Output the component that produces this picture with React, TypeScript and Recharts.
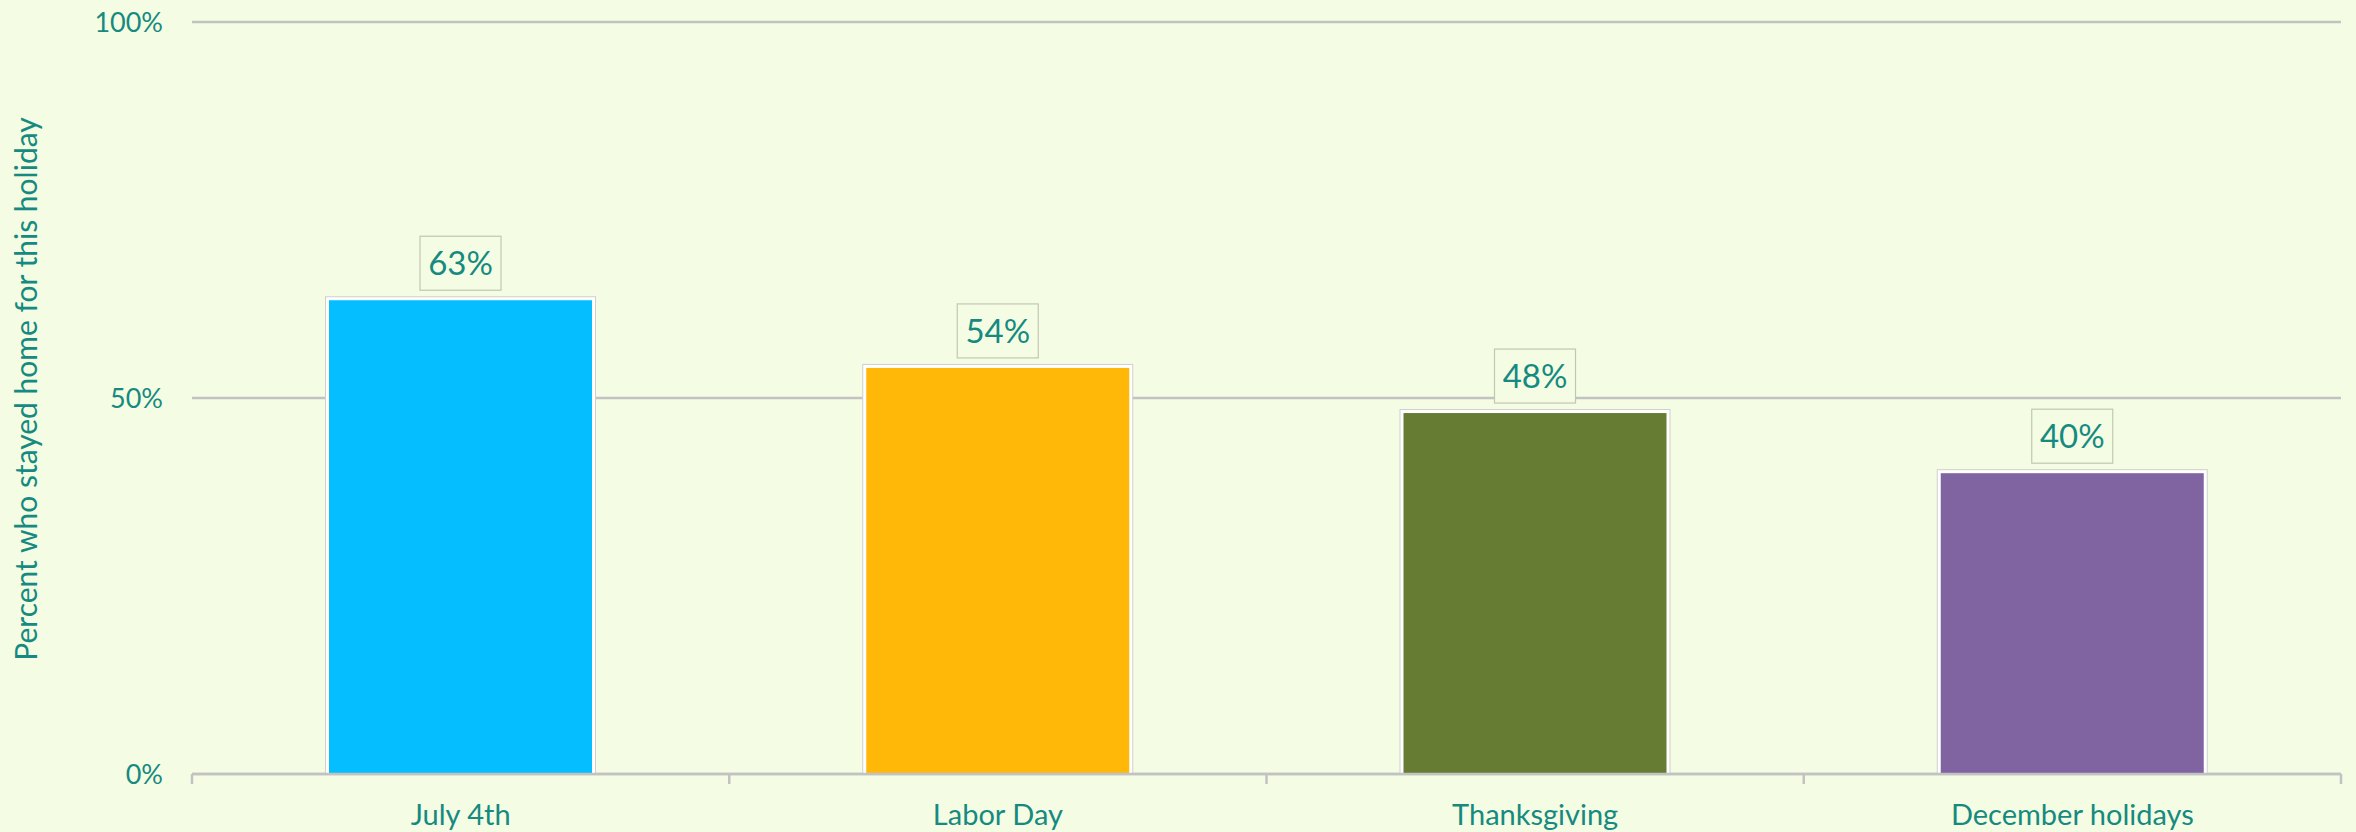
import { BarChart, Bar, XAxis, YAxis, CartesianGrid, LabelList, Cell, Label } from 'recharts';

const BG = '#F4FDE3';
const TEAL = '#168A80';
const GRID = '#C2C2C2';
const FONT = 'Lato, "Noto Sans", sans-serif';

const holidays = ['July 4th', 'Labor Day', 'Thanksgiving', 'December holidays'];
const stayedHome = [63, 54, 48, 40];
const barColors = ['#05BEFF', '#FFB808', '#667C33', '#8064A1'];
const yTicks = [0, 50, 100];

const data = holidays.map((name, i) => ({ name, value: stayedHome[i] }));

const LABEL_GAP = 30;

// bar with a thin white frame and light grey outline drawn outside the fill
function BarShape(props: any) {
  const { x, y, width, height, fill } = props;
  if (!height) return null;
  return (
    <g>
      <rect x={x - 3.5} y={y - 3.5} width={width + 7} height={height + 3.5} fill="#ffffff" stroke="#cfcfcf" strokeWidth={1} />
      <rect x={x} y={y} width={width} height={height} fill={fill} />
    </g>
  );
}

function ValueBox(props: any) {
  const { x, y, width, value } = props;
  const cx = x + width / 2;
  const w = 81;
  const h = 54;
  const top = y - 10 - h;
  return (
    <g>
      <rect x={cx - w / 2} y={top} width={w} height={h} fill={BG} stroke="#c3c6b2" strokeWidth={1.2} />
      <text x={cx} y={top + h / 2} dy="0.36em" textAnchor="middle" fontSize={33} fill={TEAL} fontFamily={FONT}>
        {value}%
      </text>
    </g>
  );
}

// category label plus the tick marks on the band edges (Excel style)
function CategoryTick(props: any) {
  const { x, y, payload, index, visibleTicksCount } = props;
  const half = payload.offset || 0;
  const axisY = y - LABEL_GAP;
  const isLast = index === visibleTicksCount - 1;
  return (
    <g>
      <line x1={x - half} x2={x - half} y1={axisY} y2={axisY + 10} stroke={GRID} strokeWidth={2.5} />
      {isLast && <line x1={x + half} x2={x + half} y1={axisY} y2={axisY + 10} stroke={GRID} strokeWidth={2.5} />}
      <text x={x} y={y} dy="0.71em" textAnchor="middle" fontSize={29} fill={TEAL} fontFamily={FONT}>
        {payload.value}
      </text>
    </g>
  );
}

function YTitle(props: any) {
  const { viewBox } = props;
  const x = viewBox.x + 26;
  const y = viewBox.y + viewBox.height / 2 - 9;
  return (
    <text x={x} y={y} dy="0.35em" transform={`rotate(-90 ${x} ${y})`} textAnchor="middle" fontSize={30} fill={TEAL} fontFamily={FONT}>
      Percent who stayed home for this holiday
    </text>
  );
}

export default function App() {
  return (
    <div style={{ position: 'absolute', left: 0, top: 0, width: 2356, height: 832, background: BG }}>
      <BarChart
        width={2356}
        height={832}
        data={data}
        margin={{ top: 22, right: 15, left: 0, bottom: 0 }}
        barCategoryGap="25.5%"
      >
        <CartesianGrid horizontal vertical={false} stroke={GRID} strokeWidth={2.5} />
        <XAxis
          dataKey="name"
          axisLine={{ stroke: GRID, strokeWidth: 2.5 }}
          tickLine={false}
          tickSize={0}
          tickMargin={LABEL_GAP}
          height={58}
          interval={0}
          tick={<CategoryTick />}
        />
        <YAxis
          domain={[0, 100]}
          ticks={yTicks}
          width={192}
          axisLine={false}
          tickLine={false}
          tickSize={0}
          tickMargin={29}
          tickFormatter={(v: number) => `${v}%`}
          tick={{ fontSize: 27, fill: TEAL, fontFamily: FONT }}
        >
          <Label content={<YTitle />} position="insideLeft" />
        </YAxis>
        <Bar dataKey="value" shape={<BarShape />} isAnimationActive={false}>
          {data.map((d, i) => (
            <Cell key={d.name} fill={barColors[i]} />
          ))}
          <LabelList dataKey="value" content={<ValueBox />} />
        </Bar>
      </BarChart>
    </div>
  );
}
